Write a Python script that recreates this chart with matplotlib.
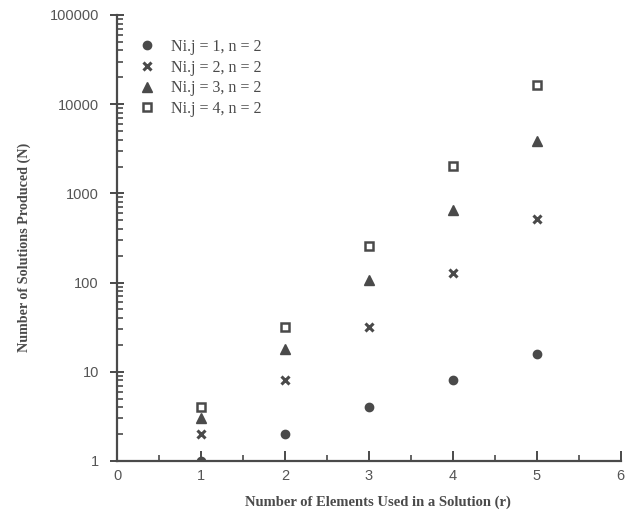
import numpy as np
import matplotlib.pyplot as plt
from matplotlib.ticker import LogLocator, FixedLocator, NullFormatter

r = [1, 2, 3, 4, 5]
n_ij1 = [1, 2, 4, 8, 16]
n_ij2 = [2, 8, 32, 128, 512]
n_ij3 = [3, 18, 108, 648, 3888]
n_ij4 = [4, 32, 256, 2048, 16384]

labels = ["Ni.j = 1, n = 2", "Ni.j = 2, n = 2", "Ni.j = 3, n = 2", "Ni.j = 4, n = 2"]
y_ticks = [1, 10, 100, 1000, 10000, 100000]
y_tick_labels = ["1", "10", "100", "1000", "10000", "100000"]
x_ticks = [0, 1, 2, 3, 4, 5, 6]

ink = "#4a4a4a"
serif = ["Liberation Serif", "DejaVu Serif"]
sans = ["Liberation Sans", "DejaVu Sans"]

fig = plt.figure(figsize=(6.36, 5.2), dpi=100)
ax = fig.add_axes([0.184, 0.1135, 0.792, 0.8577])

ax.plot(r, n_ij1, linestyle="none", marker="o", markersize=6, color=ink, label=labels[0])
ax.plot(r, n_ij2, linestyle="none", marker="x", markersize=6, markeredgewidth=2.2,
        color=ink, label=labels[1])
ax.plot(r, n_ij3, linestyle="none", marker="^", markersize=7, color=ink, label=labels[2])
ax.plot(r, n_ij4, linestyle="none", marker="s", markersize=6, markerfacecolor="white",
        markeredgewidth=1.8, color=ink, label=labels[3])

ax.set_yscale("log")
ax.set_xlim(0, 6)
ax.set_ylim(1, 100000)

ax.xaxis.set_major_locator(FixedLocator(x_ticks))
ax.xaxis.set_minor_locator(FixedLocator([0.5, 1.5, 2.5, 3.5, 4.5, 5.5]))
ax.yaxis.set_major_locator(FixedLocator(y_ticks))
ax.yaxis.set_minor_locator(LogLocator(base=10, subs=np.arange(2, 10)))
ax.yaxis.set_minor_formatter(NullFormatter())
ax.set_yticklabels(y_tick_labels)

for side in ["top", "right"]:
    ax.spines[side].set_visible(False)
for side in ["left", "bottom"]:
    ax.spines[side].set_color(ink)
    ax.spines[side].set_linewidth(1.6)

ax.tick_params(axis="x", which="major", direction="in", length=7, width=1.4, color=ink,
               labelsize=10.5, labelcolor="#555555", pad=6)
ax.tick_params(axis="x", which="minor", direction="in", length=4, width=1.2, color=ink)
ax.tick_params(axis="y", which="major", direction="inout", length=10, width=1.4, color=ink,
               labelsize=10.5, labelcolor="#555555", pad=8)
ax.tick_params(axis="y", which="minor", direction="in", length=4, width=1.2, color=ink)
for lbl in ax.get_xticklabels() + ax.get_yticklabels():
    lbl.set_family(sans)

ax.set_xlabel("Number of Elements Used in a Solution (r)", family=serif, fontweight="bold",
              fontsize=10.5, color=ink)
ax.xaxis.set_label_coords(0.518, -0.078)
ax.set_ylabel("Number of Solutions Produced (N)", family=serif, fontweight="bold",
              fontsize=10.2, color=ink)
ax.yaxis.set_label_coords(-0.171, 0.48)

leg = ax.legend(loc="upper left", bbox_to_anchor=(131.5 / 636, 1 - 31 / 520),
                bbox_transform=fig.transFigure, frameon=False, borderpad=0,
                handlelength=1.0, handletextpad=1.0, labelspacing=0.29,
                prop={"family": serif, "size": 11.5})
for t in leg.get_texts():
    t.set_color(ink)

fig.savefig("out.png", dpi=100)
